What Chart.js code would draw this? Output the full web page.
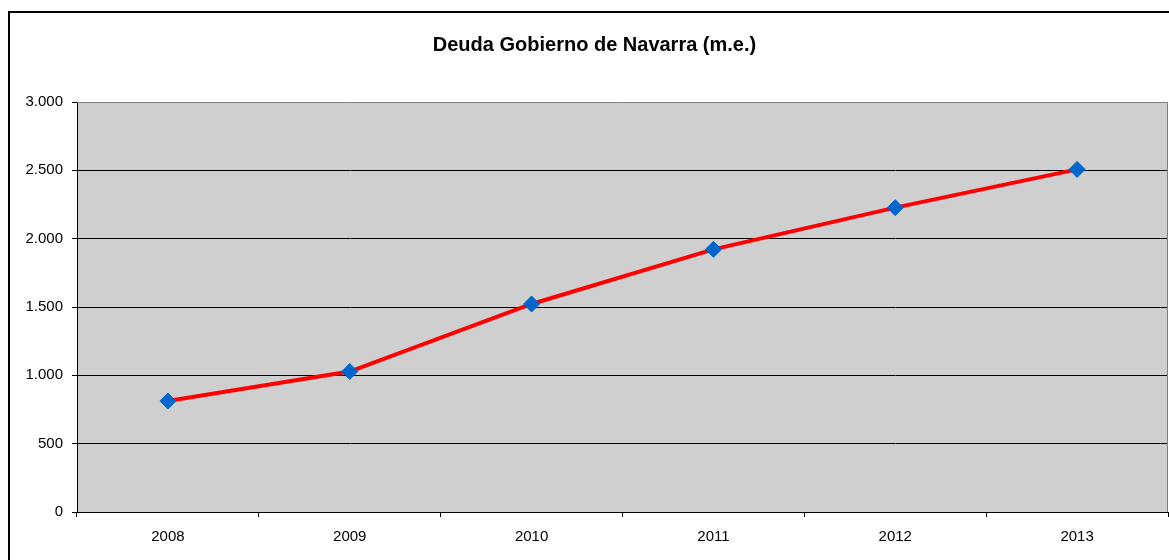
<!DOCTYPE html>
<html>
<head>
<meta charset="utf-8">
<script src="https://cdn.jsdelivr.net/npm/chart.js@4/dist/chart.umd.min.js"></script>
<style>
  html, body { margin: 0; padding: 0; background: #ffffff; overflow: hidden; width: 1169px; height: 560px; }
  #wrap { position: absolute; left: 0; top: 0; width: 1169px; height: 560px; overflow: hidden; }
  #c { position: absolute; left: 0; top: 0; }
</style>
</head>
<body>
<div id="wrap"><canvas id="c" width="1177" height="560"></canvas></div>
<script>
const titleText = 'Deuda Gobierno de Navarra (m.e.)';
const categories = ['2008', '2009', '2010', '2011', '2012', '2013'];
const deuda = [812, 1028, 1522, 1922, 2227, 2507];
const yTickValues = [0, 500, 1000, 1500, 2000, 2500, 3000];
const yTickLabels = ['0', '500', '1.000', '1.500', '2.000', '2.500', '3.000'];

const chartDecor = {
  id: 'chartDecor',
  beforeDraw(chart) {
    const ctx = chart.ctx;
    const a = chart.chartArea;
    ctx.save();
    ctx.fillStyle = '#ffffff';
    ctx.fillRect(0, 0, chart.width, chart.height);
    // outer frame
    ctx.strokeStyle = '#000000';
    ctx.lineWidth = 2;
    ctx.strokeRect(9, 12, chart.width + 20, chart.height + 20);
    // plot background
    ctx.fillStyle = '#cfcfcf';
    ctx.fillRect(a.left, a.top, a.right - a.left, a.bottom - a.top);
    ctx.restore();
  },
  beforeDatasetsDraw(chart) {
    const ctx = chart.ctx;
    const a = chart.chartArea;
    ctx.save();
    ctx.strokeStyle = '#808080';
    ctx.lineWidth = 1;
    ctx.beginPath();
    ctx.moveTo(a.left, Math.round(a.top) + 0.5);
    ctx.lineTo(Math.round(a.right) - 0.5, Math.round(a.top) + 0.5);
    ctx.lineTo(Math.round(a.right) - 0.5, a.bottom);
    ctx.stroke();
    ctx.restore();
  }
};

new Chart(document.getElementById('c'), {
  type: 'line',
  data: {
    labels: categories,
    datasets: [{
      data: deuda,
      borderColor: '#ff0000',
      borderWidth: 4,
      pointStyle: 'rectRot',
      pointRadius: 8,
      pointHoverRadius: 8,
      pointBackgroundColor: '#0066cc',
      pointBorderColor: '#0066cc',
      pointBorderWidth: 1,
      tension: 0,
      fill: false
    }]
  },
  options: {
    responsive: false,
    animation: false,
    devicePixelRatio: 1,
    layout: { padding: { left: 13, right: 1, top: 0, bottom: 0 } },
    plugins: {
      legend: { display: false },
      tooltip: { enabled: false },
      title: {
        display: true,
        text: titleText,
        color: '#000000',
        font: { family: '"Liberation Sans", Arial, sans-serif', size: 20, weight: 'bold', lineHeight: 1.2 },
        padding: { top: 33, bottom: 45 }
      }
    },
    scales: {
      x: {
        offset: true,
        afterFit(scale) { scale.height = 48; },
        border: { display: true, color: '#000000', width: 1 },
        grid: {
          offset: true,
          drawOnChartArea: false,
          drawTicks: true,
          tickLength: 5,
          color: '#000000',
          lineWidth: 1
        },
        ticks: {
          color: '#000000',
          padding: 11,
          maxRotation: 0,
          font: { family: '"Liberation Sans", Arial, sans-serif', size: 15 }
        }
      },
      y: {
        min: 0,
        max: 3000,
        afterFit(scale) { scale.width = 64; },
        afterBuildTicks(scale) { scale.ticks = yTickValues.map(v => ({ value: v })); },
        border: { display: true, color: '#000000', width: 1 },
        grid: {
          drawTicks: true,
          tickLength: 5,
          lineWidth: 1,
          color(ctx) { return (ctx.tick && ctx.tick.value === 3000) ? 'rgba(0,0,0,0)' : '#000000'; },
          tickColor: '#000000'
        },
        ticks: {
          color: '#000000',
          padding: 9,
          font: { family: '"Liberation Sans", Arial, sans-serif', size: 15 },
          callback(value) {
            const i = yTickValues.indexOf(value);
            return i >= 0 ? yTickLabels[i] : '';
          }
        }
      }
    }
  },
  plugins: [chartDecor]
});
</script>
</body>
</html>
